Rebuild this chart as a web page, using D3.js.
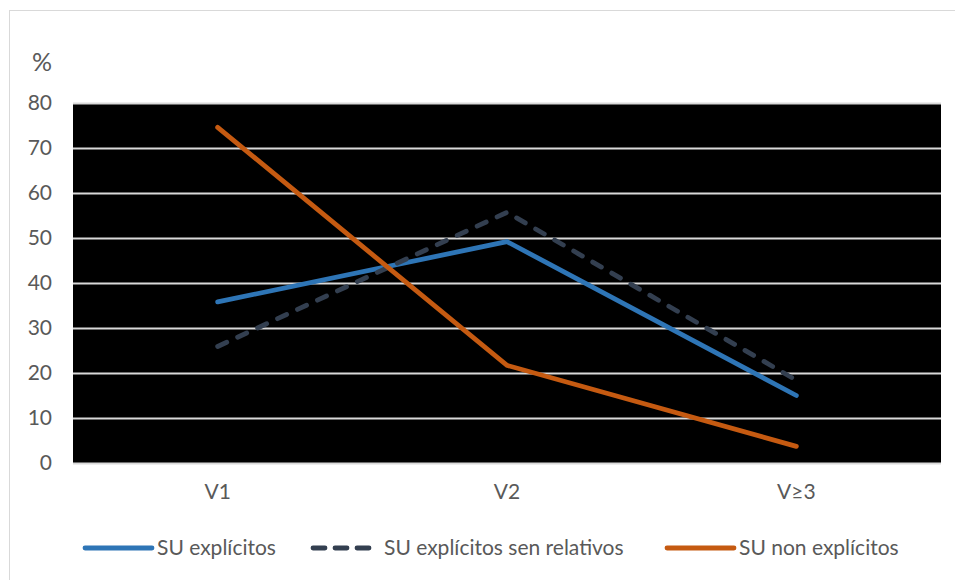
<!DOCTYPE html>
<html>
<head>
<meta charset="utf-8">
<script src="https://cdn.jsdelivr.net/npm/d3@7"></script>
<style>
  html, body { margin: 0; padding: 0; background: #fff; }
  svg text { font-family: Lato, "Open Sans", sans-serif; fill: #595959; }
</style>
</head>
<body>
<svg id="chart" width="955" height="580"></svg>
<script>
// Categories and series values (%)
const categories = ["V1", "V2", "V≥3"];
const suExplicitos = [35.8, 49.2, 15.0];
const suExplicitosSenRelativos = [25.9, 55.7, 18.4];
const suNonExplicitos = [74.6, 21.7, 3.7];
const yTicks = [0, 10, 20, 30, 40, 50, 60, 70, 80];

const seriesNames = ["SU explícitos", "SU explícitos sen relativos", "SU non explícitos"];
const seriesValues = [suExplicitos, suExplicitosSenRelativos, suNonExplicitos];
const seriesColors = ["#2E75B6", "#333F50", "#C55A11"];
const seriesDash = [null, "10,12", null];

const svg = d3.select("#chart");
const W = 955, H = 580;
const plot = { left: 73, top: 103, right: 941, bottom: 463 };
const fontSize = "21px";

// outer chart frame
svg.append("rect")
  .attr("x", 9.5).attr("y", 10.5)
  .attr("width", W).attr("height", H)
  .attr("fill", "#fff").attr("stroke", "#d9d9d9").attr("stroke-width", 1);

const x = d3.scaleBand().domain(categories).range([plot.left, plot.right]);
const y = d3.scaleLinear().domain([0, 80]).range([plot.bottom, plot.top]);

// plot background
svg.append("rect")
  .attr("x", plot.left).attr("y", plot.top)
  .attr("width", plot.right - plot.left).attr("height", plot.bottom - plot.top)
  .attr("fill", "#000");

// horizontal gridlines
svg.append("g").selectAll("line").data(yTicks).join("line")
  .attr("x1", plot.left).attr("x2", plot.right)
  .attr("y1", d => Math.round(y(d)) + 0.5).attr("y2", d => Math.round(y(d)) + 0.5)
  .attr("stroke", "#d9d9d9").attr("stroke-width", 2);

// y axis labels
const yAxis = d3.axisLeft(y).tickValues(yTicks).tickSize(0).tickPadding(21);
const gy = svg.append("g").attr("transform", `translate(${plot.left},0)`).call(yAxis);
gy.select(".domain").remove();
gy.selectAll("text").style("font-size", fontSize).attr("fill", "#595959")
  .style("font-family", "Lato, 'Open Sans', sans-serif");

svg.append("text").attr("x", 42).attr("y", 71).attr("text-anchor", "middle")
  .style("font-size", "25px").text("%");

// x axis labels
const xAxis = d3.axisBottom(x).tickSize(0).tickPadding(21);
const gx = svg.append("g").attr("transform", `translate(0,${plot.bottom})`).call(xAxis);
gx.select(".domain").remove();
gx.selectAll("text").style("font-size", fontSize).attr("fill", "#595959")
  .style("font-family", "Lato, 'Open Sans', sans-serif");

// series lines
const line = d3.line()
  .x((d, i) => x(categories[i]) + x.bandwidth() / 2)
  .y(d => y(d));

seriesValues.forEach((vals, k) => {
  svg.append("path")
    .datum(vals)
    .attr("d", line)
    .attr("fill", "none")
    .attr("stroke", seriesColors[k])
    .attr("stroke-width", 4.8)
    .attr("stroke-linecap", "round")
    .attr("stroke-linejoin", "miter")
    .attr("stroke-dasharray", seriesDash[k]);
});

// legend
const legendItems = [
  { x1: 85, x2: 152, tx: 157 },
  { x1: 313, x2: 372, tx: 384 },
  { x1: 667, x2: 734, tx: 739 }
];
const ly = 548;
legendItems.forEach((it, k) => {
  svg.append("line")
    .attr("x1", it.x1).attr("x2", it.x2).attr("y1", ly).attr("y2", ly)
    .attr("stroke", seriesColors[k]).attr("stroke-width", 4.8)
    .attr("stroke-linecap", "round")
    .attr("stroke-dasharray", k === 1 ? "12,10" : null);
  svg.append("text").attr("x", it.tx).attr("y", ly + 7)
    .style("font-size", fontSize).text(seriesNames[k]);
});
</script>
</body>
</html>
